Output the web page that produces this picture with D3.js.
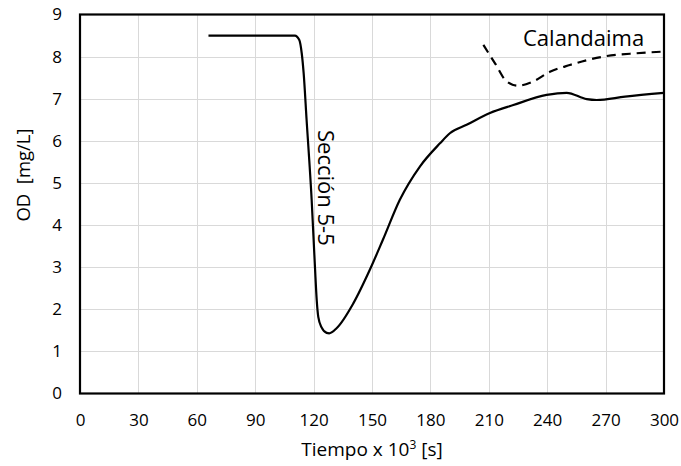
<!DOCTYPE html>
<html><head><meta charset="utf-8">
<script src="https://cdn.jsdelivr.net/npm/d3@7"></script>
<style>
html,body{margin:0;padding:0;background:#fff;}
text{font-family:"Open Sans",sans-serif;fill:#000;}
</style></head>
<body>
<svg id="chart" width="681" height="466"></svg>
<script>
// Data
const xTicks = [0, 30, 60, 90, 120, 150, 180, 210, 240, 270, 300];
const yTicks = [0, 1, 2, 3, 4, 5, 6, 7, 8, 9];
const seccionX = [66, 80, 100, 110.4, 112.6, 113.9, 114.9, 116.4, 119.0, 120.7, 121.6, 122.4, 124.1, 126.7, 128, 131.8, 140.4, 149, 155.6, 164.3, 174.6, 184.9, 190, 198.6, 210.6, 222.6, 239.7, 250, 260.3, 265.4, 280, 300];
const seccionY = [8.5, 8.5, 8.5, 8.5, 8.4, 8.08, 7.6, 6.5, 4.6, 3.0, 2.22, 1.82, 1.57, 1.44, 1.43, 1.55, 2.14, 2.95, 3.65, 4.6, 5.39, 5.94, 6.18, 6.38, 6.66, 6.85, 7.09, 7.14, 6.99, 6.97, 7.05, 7.14];
const calX = [207.2, 213.2, 219.2, 225.1, 232.8, 241.4, 251.6, 268.8, 285.9, 300];
const calY = [8.28, 7.84, 7.41, 7.31, 7.41, 7.64, 7.80, 8.0, 8.08, 8.12];

const svg = d3.select("#chart");
const L = 80, R = 664, T = 14.5, B = 393.5;
const x = d3.scaleLinear().domain([0, 300]).range([L, R]);
const y = d3.scaleLinear().domain([0, 9]).range([B, T]);

// gridlines
svg.append("g").selectAll("line.v").data(xTicks.slice(1, -1)).join("line")
  .attr("x1", d => Math.round(x(d)) + 0.5).attr("x2", d => Math.round(x(d)) + 0.5)
  .attr("y1", T).attr("y2", B).attr("stroke", "#d9d9d9").attr("stroke-width", 1);
svg.append("g").selectAll("line.h").data(yTicks.slice(1, -1)).join("line")
  .attr("y1", d => Math.round(y(d)) + 0.5).attr("y2", d => Math.round(y(d)) + 0.5)
  .attr("x1", L).attr("x2", R).attr("stroke", "#d9d9d9").attr("stroke-width", 1);

// axes labels via d3 axes (no tick lines)
const xAxis = svg.append("g").attr("transform", `translate(0,${B})`)
  .call(d3.axisBottom(x).tickValues(xTicks).tickSize(0).tickPadding(20));
xAxis.select(".domain").remove();
xAxis.selectAll("text").attr("font-size", 17).attr("font-family", "Open Sans").attr("fill", "#000");

const yAxis = svg.append("g").attr("transform", `translate(${L},0)`)
  .call(d3.axisLeft(y).tickValues(yTicks).tickSize(0).tickPadding(18));
yAxis.select(".domain").remove();
yAxis.selectAll("text").attr("font-size", 17).attr("font-family", "Open Sans").attr("fill", "#000");

// frame
svg.append("rect").attr("x", L).attr("y", T).attr("width", R - L).attr("height", B - T)
  .attr("fill", "none").attr("stroke", "#000").attr("stroke-width", 2.2);

// lines
const pts1 = seccionX.map((d, i) => [d, seccionY[i]]);
const pts2 = calX.map((d, i) => [d, calY[i]]);
const line = d3.line().x(d => x(d[0])).y(d => y(d[1])).curve(d3.curveMonotoneX);
svg.append("path").attr("d", line(pts1)).attr("fill", "none").attr("stroke", "#000").attr("stroke-width", 2.2);
svg.append("path").attr("d", line(pts2)).attr("fill", "none").attr("stroke", "#000").attr("stroke-width", 2.2)
  .attr("stroke-dasharray", "9,6");

// annotations
svg.append("text").attr("x", 523).attr("y", 46).attr("font-size", 22).text("Calandaima");
svg.append("text").attr("transform", "translate(317,130) rotate(90)").attr("font-size", 22)
  .attr("dy", "-0.05em").text("Sección 5-5");

// axis titles
const xt = svg.append("text").attr("x", (L + R) / 2).attr("y", 456).attr("text-anchor", "middle").attr("font-size", 19);
xt.append("tspan").text("Tiempo x 10");
xt.append("tspan").attr("dy", -7).attr("font-size", 12).text("3");
xt.append("tspan").attr("dy", 7).text(" [s]");
svg.append("text").attr("transform", "translate(30,175) rotate(-90)").attr("text-anchor", "middle")
  .attr("font-size", 18.5).attr("xml:space", "preserve").style("white-space", "pre").text("OD  [mg/L]");
</script>
</body></html>
